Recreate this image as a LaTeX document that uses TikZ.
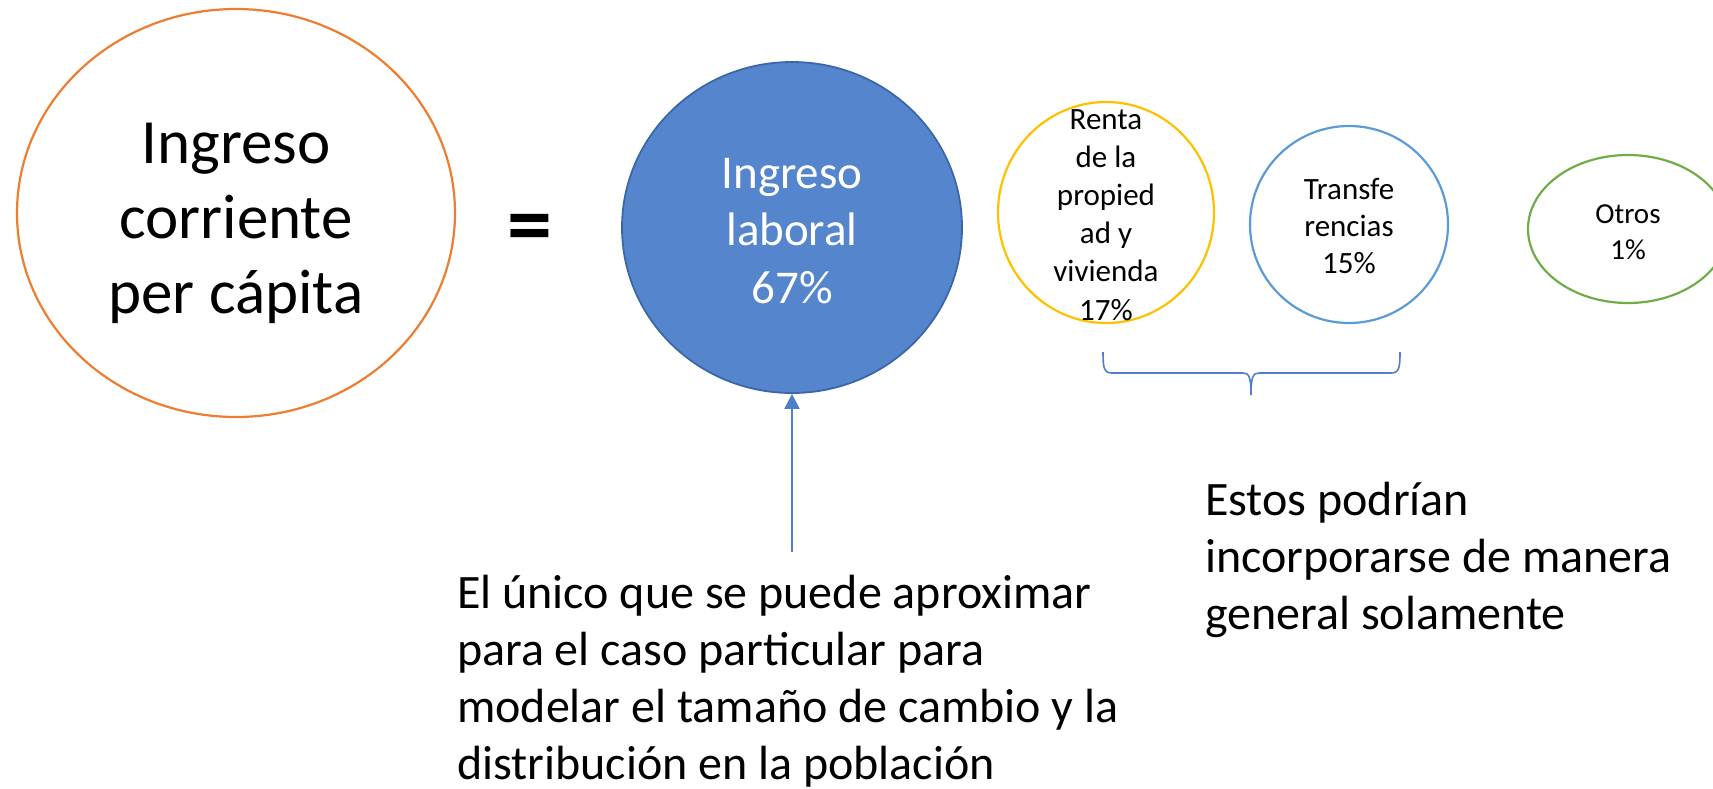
\documentclass[tikz,border=0pt]{standalone}
\usepackage{fontspec}
\setmainfont{Carlito}
\usetikzlibrary{shapes.geometric,arrows.meta}
\definecolor{orangeline}{HTML}{ED7D31}
\definecolor{bluefill}{HTML}{5586CD}
\definecolor{blueborder}{HTML}{3B67A9}
\definecolor{yellowline}{HTML}{FFC000}
\definecolor{lightblue}{HTML}{5B9BD5}
\definecolor{greenline}{HTML}{70AD47}
\definecolor{connblue}{HTML}{4F7FCC}
\tikzset{
  ell/.style={ellipse, draw, inner sep=0pt, line width=2.2pt},
  txt/.style={inner sep=0pt, anchor=base, align=flush center, text width=400pt},
  note/.style={inner sep=0pt, anchor=base west, align=flush left, text width=700pt,
    font=\fontsize{48}{57}\selectfont},
  arrowline/.style={draw=connblue, line width=2.2pt, -{Triangle[width=15pt,length=15pt]}},
  braceline/.style={draw=connblue, line width=1.6pt},
}
\begin{document}
\begin{tikzpicture}[x=1pt,y=-1pt]
\useasboundingbox (0,0) rectangle (1713,788);
% ellipses
\node[ell, draw=orangeline, minimum width=438pt, minimum height=408pt] (total) at (236,213) {};
\node[ell, draw=blueborder, fill=bluefill, line width=1.8pt, minimum width=340pt, minimum height=331pt] (labor) at (792,227.5) {};
\node[ell, draw=yellowline, minimum width=216pt, minimum height=221pt] (renta) at (1106,212.5) {};
\node[ell, draw=lightblue, minimum width=198pt, minimum height=197pt] (transf) at (1349,224.5) {};
\node[ell, draw=greenline, minimum width=200pt, minimum height=148pt] (otros) at (1628,229) {};
% texts
\node[txt, font=\fontsize{63}{75}\selectfont] (totaltxt) at (236,163) {Ingreso\\corriente\\per cápita};
\node[inner sep=0pt, font=\bfseries\fontsize{90}{90}\selectfont] (eq) at (530,234) {=};
\node[txt, text=white, font=\fontsize{47}{57.5}\selectfont] (labortxt) at (792,188) {Ingreso\\laboral\\67\%};
\node[txt, font=\fontsize{31}{38.2}\selectfont] (rentatxt) at (1106,129) {Renta\\de la\\propied\\ad y\\vivienda\\17\%};
\node[txt, font=\fontsize{31}{37}\selectfont] (transftxt) at (1349,199) {Transfe\\rencias\\15\%};
\node[txt, font=\fontsize{29}{36}\selectfont] (otrostxt) at (1628,223) {Otros\\1\%};
\node[note] (note1) at (457,608) {El único que se puede aproximar\\para el caso particular para\\modelar el tamaño de cambio y la\\distribución en la población};
\node[note] (note2) at (1205,515) {Estos podrían\\incorporarse de manera\\general solamente};
% arrow
\coordinate (arrowtail) at (792,552);
\draw[arrowline] (arrowtail) -- (labor.south);
% brace
\coordinate (bl) at (1103,352);
\coordinate (br) at (1400,352);
\coordinate (btip) at (1251,395);
\draw[braceline] (bl) .. controls (1103,368) and (1104,373) .. (1112,373) -- (1243,373)
  .. controls (1249,373) and (1251,377) .. (btip);
\draw[braceline] (br) .. controls (1400,368) and (1399,373) .. (1391,373) -- (1259,373)
  .. controls (1253,373) and (1251,377) .. (btip);
\end{tikzpicture}
\end{document}
